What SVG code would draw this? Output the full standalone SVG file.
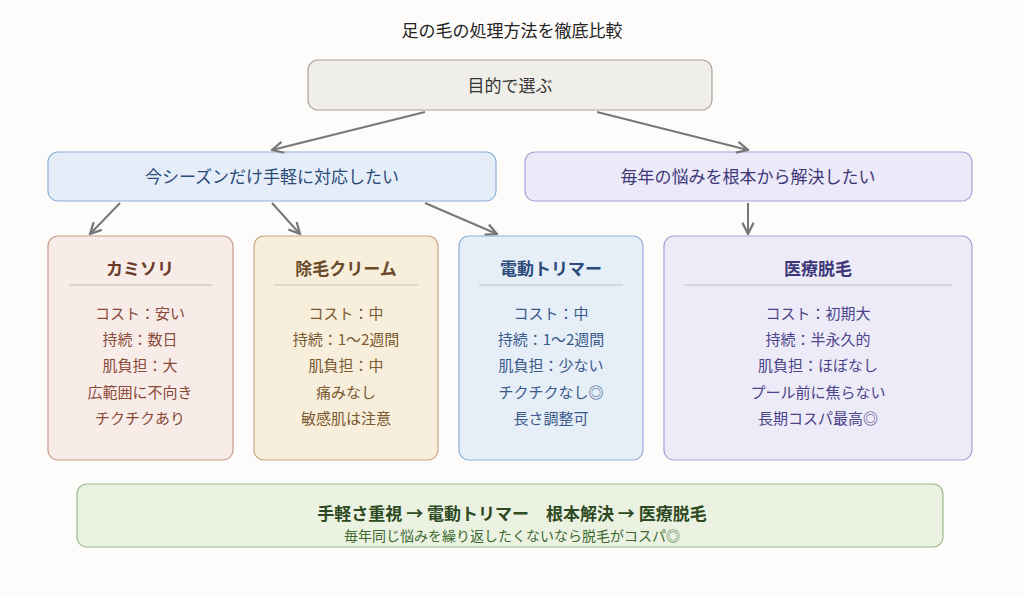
<svg xmlns="http://www.w3.org/2000/svg" width="1024" height="596" viewBox="0 0 1024 596">
<style>
text{font-family:"Noto Sans CJK JP","Noto Sans",sans-serif;text-anchor:middle}
.t{font-size:17px;font-weight:bold}
.b{font-size:15px}
.c line{stroke:#777;stroke-width:2}
</style>
<defs><marker id="a" viewBox="0 0 10 10" refX="9" refY="5" markerWidth="7" markerHeight="7" orient="auto"><path d="M1,1L9,5L1,9" fill="none" stroke="#777" stroke-width="1.6"/></marker></defs>
<rect width="1024" height="596" fill="#fdfcfa"/>
<text x="512" y="37" style="font-size:17px" fill="#222">足の毛の処理方法を徹底比較</text>
<g id="goal"><rect x="308" y="60" width="404" height="50" rx="10" fill="#f0eee8" stroke="#aaa49a" stroke-width="1.2"/><text x="510" y="92" style="font-size:17px" fill="#333">目的で選ぶ</text></g>
<g id="short"><rect x="48" y="152" width="448" height="49" rx="10" fill="#e5eef8" stroke="#90b0d8" stroke-width="1.2"/><text x="272" y="183" style="font-size:17px" fill="#2b4a7a">今シーズンだけ手軽に対応したい</text></g>
<g id="long"><rect x="525" y="152" width="447" height="49" rx="10" fill="#ece9f8" stroke="#a9a0d8" stroke-width="1.2"/><text x="748" y="183" style="font-size:17px" fill="#3e3878">毎年の悩みを根本から解決したい</text></g>
<g class="c">
<line x1="425" y1="112" x2="272" y2="150" marker-end="url(#a)"/>
<line x1="597" y1="112" x2="748" y2="150" marker-end="url(#a)"/>
<line x1="120" y1="203" x2="90" y2="234" marker-end="url(#a)"/>
<line x1="272" y1="203" x2="300" y2="234" marker-end="url(#a)"/>
<line x1="425" y1="203" x2="497" y2="234" marker-end="url(#a)"/>
<line x1="748" y1="203" x2="748" y2="234" marker-end="url(#a)"/>
</g>
<g id="razor"><rect x="48" y="236" width="185" height="224" rx="10" fill="#f8ece8" stroke="#c99a8e" stroke-width="1.2"/><text class="t" x="140" y="275" fill="#6a3a2a">カミソリ</text><line x1="69" y1="285" x2="212" y2="285" stroke="#d8cac6" stroke-width="1.5"/>
<g class="b" fill="#8a4a38"><text x="140" y="319">コスト：安い</text><text x="140" y="345">持続：数日</text><text x="140" y="371">肌負担：大</text><text x="140" y="398">広範囲に不向き</text><text x="140" y="424">チクチクあり</text></g></g>
<g id="cream"><rect x="254" y="236" width="184" height="224" rx="10" fill="#f7eedc" stroke="#c6a882" stroke-width="1.2"/><text class="t" x="346" y="275" fill="#6a4a28">除毛クリーム</text><line x1="274" y1="285" x2="418" y2="285" stroke="#dcd2c2" stroke-width="1.5"/>
<g class="b" fill="#7a5a30"><text x="346" y="319">コスト：中</text><text x="346" y="345">持続：1〜2週間</text><text x="346" y="371">肌負担：中</text><text x="346" y="398">痛みなし</text><text x="346" y="424">敏感肌は注意</text></g></g>
<g id="trimmer"><rect x="459" y="236" width="184" height="224" rx="10" fill="#e6eef8" stroke="#90b0d8" stroke-width="1.2"/><text class="t" x="551" y="275" fill="#2b4a7a">電動トリマー</text><line x1="479" y1="285" x2="623" y2="285" stroke="#c6d2e0" stroke-width="1.5"/>
<g class="b" fill="#3a5a8a"><text x="551" y="319">コスト：中</text><text x="551" y="345">持続：1〜2週間</text><text x="551" y="371">肌負担：少ない</text><text x="551" y="398">チクチクなし◎</text><text x="551" y="424">長さ調整可</text></g></g>
<g id="medical"><rect x="664" y="236" width="308" height="224" rx="10" fill="#eeebf8" stroke="#a9a0d8" stroke-width="1.2"/><text class="t" x="818" y="275" fill="#3e3878">医療脱毛</text><line x1="684" y1="285" x2="952" y2="285" stroke="#d0cce0" stroke-width="1.5"/>
<g class="b" fill="#4a4488"><text x="818" y="319">コスト：初期大</text><text x="818" y="345">持続：半永久的</text><text x="818" y="371">肌負担：ほぼなし</text><text x="818" y="398">プール前に焦らない</text><text x="818" y="424">長期コスパ最高◎</text></g></g>
<g id="summary"><rect x="77" y="484" width="866" height="63" rx="10" fill="#ebf2e2" stroke="#9cb88a" stroke-width="1.2"/><text x="512" y="520" style="font-size:17px;font-weight:bold" fill="#2e4a22">手軽さ重視 → 電動トリマー　根本解決 → 医療脱毛</text><text x="512" y="541" style="font-size:14px" fill="#3e6a30">毎年同じ悩みを繰り返したくないなら脱毛がコスパ◎</text></g>
</svg>
